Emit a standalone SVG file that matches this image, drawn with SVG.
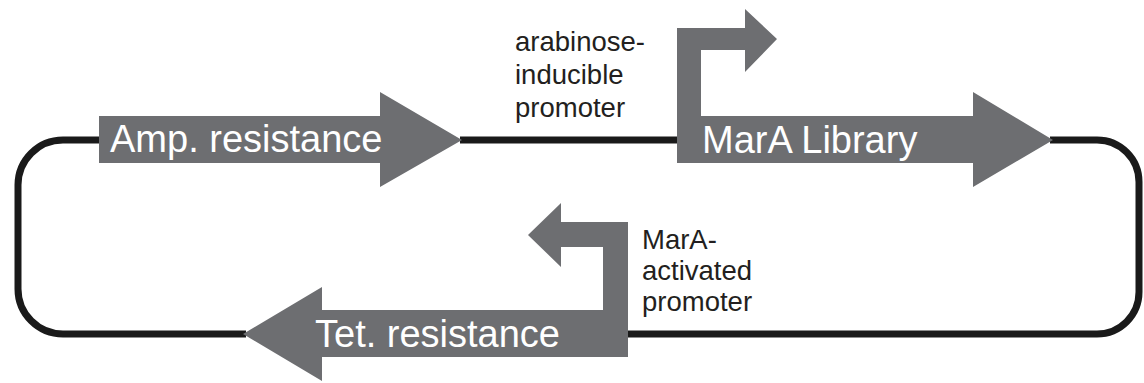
<svg xmlns="http://www.w3.org/2000/svg" width="1144" height="383" viewBox="0 0 1144 383">
<style>
.gene{fill:#6d6e71;}
.gl{font-family:"Liberation Sans",Arial,sans-serif;font-size:38px;fill:#ffffff;}
.lbl{font-family:"Liberation Sans",Arial,sans-serif;font-size:27.5px;fill:#231f20;}
.bb{fill:none;stroke:#1a1a1a;stroke-width:7;stroke-linecap:butt;}
</style>
<rect width="1144" height="383" fill="#ffffff"/>
<g id="connectors">
<path class="bb" d="M1050,140 L1097,140 A42,42 0 0 1 1139,182 L1139,292 A42,42 0 0 1 1097,334 L626,334"/>
<path class="bb" d="M246,334 L63,334 A45,45 0 0 1 18,289 L18,185 A45,45 0 0 1 63,140 L101,140"/>
<path class="bb" d="M460,140 L679,140"/>
</g>
<g id="amp">
<polygon class="gene" points="99,116 380,116 380,92 462,140 380,187 380,163 99,163"/>
<text class="gl" x="110" y="152">Amp. resistance</text>
</g>
<g id="mara">
<polygon class="gene" points="677,163 677,28 745,28 745,9 777,39 745,72 745,50 701,50 701,116 973,116 973,92 1053,140 973,187 973,163"/>
<text class="gl" x="702" y="153">MarA Library</text>
</g>
<g id="tet">
<polygon class="gene" points="628,357 628,222 561,222 561,203 528,235 561,267 561,247 603,247 603,310 322,310 322,287 243,334 322,381 322,357"/>
<text class="gl" x="315" y="347">Tet. resistance</text>
</g>
<g id="label-arabinose">
<text class="lbl" x="515" y="51">arabinose-</text>
<text class="lbl" x="515" y="84">inducible</text>
<text class="lbl" x="515" y="117">promoter</text>
</g>
<g id="label-mara">
<text class="lbl" x="642" y="249">MarA-</text>
<text class="lbl" x="642" y="280">activated</text>
<text class="lbl" x="642" y="311">promoter</text>
</g>
</svg>
